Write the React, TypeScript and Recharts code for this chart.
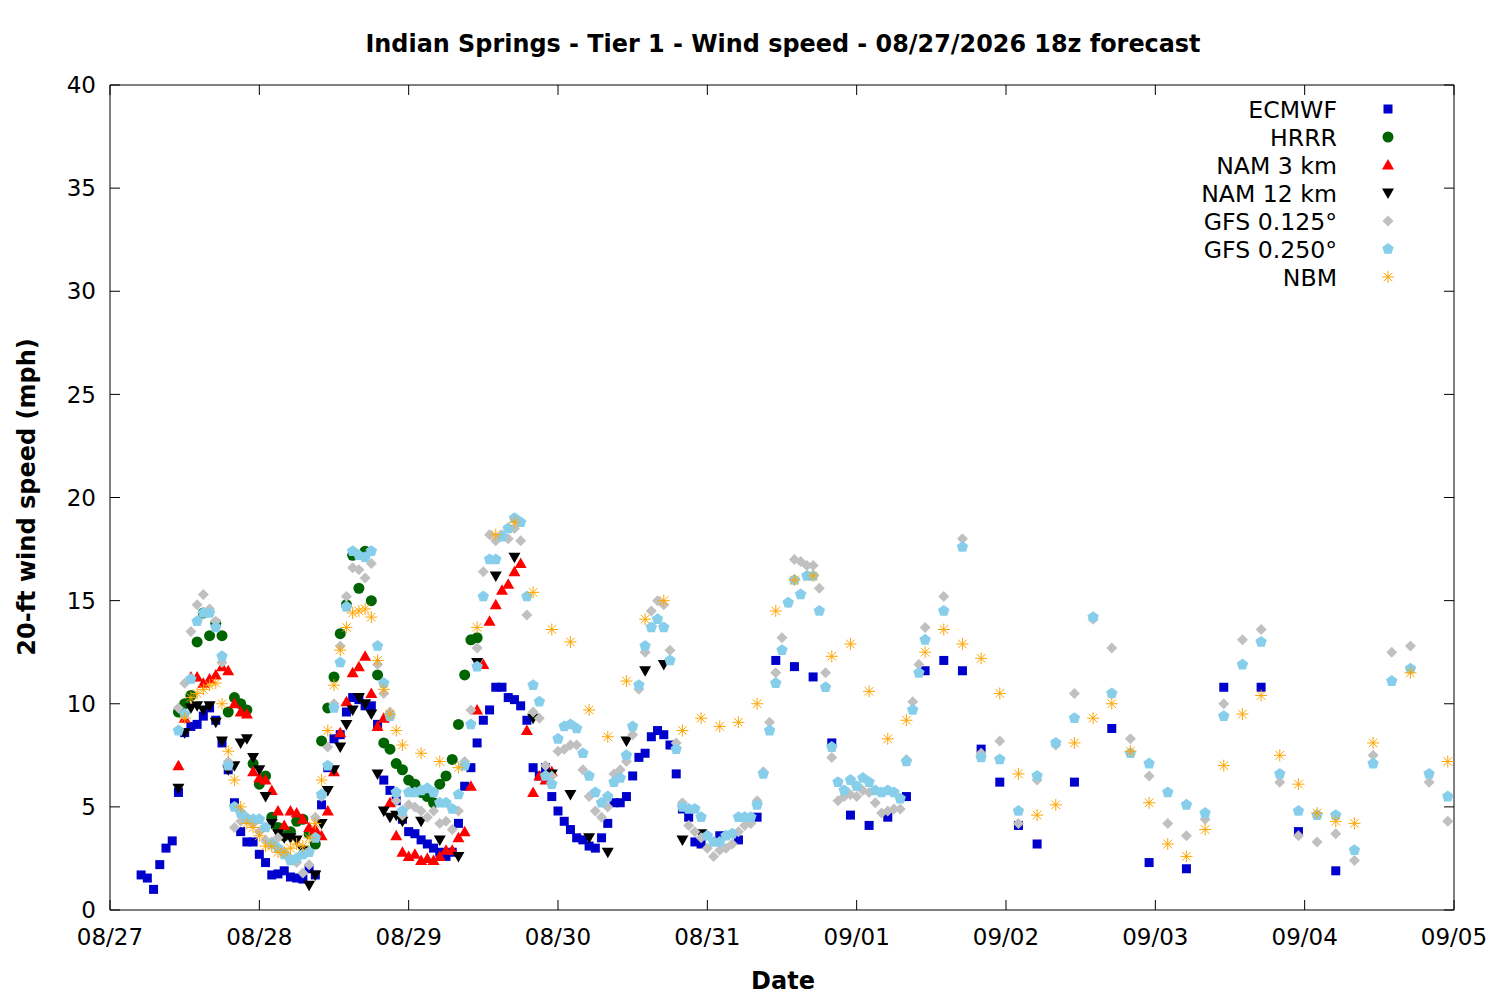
import React from 'react';
import { ScatterChart, Scatter, XAxis, YAxis, ReferenceLine } from 'recharts';

// hours since 08/27 00 -> wind speed (mph)
const ecmwf: [number, number][] = [
  [5, 1.7], [6, 1.55], [7, 1.0], [8, 2.2], [9, 3.0], [10, 3.35], [11, 5.7], [12, 8.6], [13, 8.9], [14, 9.0],
  [15, 9.4], [16, 9.8], [17, 9.2], [18, 8.1], [19, 6.8], [20, 5.2], [21, 3.8], [22, 3.3], [23, 3.3], [24, 2.7],
  [25, 2.3], [26, 1.7], [27, 1.75], [28, 1.9], [29, 1.6], [30, 1.55], [31, 1.5], [32, 2.0], [33, 1.7], [34, 5.1],
  [35, 6.9], [36, 8.3], [37, 8.5], [38, 9.6], [39, 10.3], [40, 10.2], [41, 9.9], [42, 9.9], [43, 9.0], [44, 6.3],
  [45, 5.8], [46, 5.3], [47, 4.4], [48, 3.8], [49, 3.7], [50, 3.4], [51, 3.2], [52, 3.0], [53, 2.8], [54, 2.6],
  [55, 2.8], [56, 4.2], [57, 6.0], [58, 6.9], [59, 8.1], [60, 9.2], [61, 9.7], [62, 10.8], [63, 10.8], [64, 10.3],
  [65, 10.2], [66, 9.9], [67, 9.2], [68, 6.9], [69, 6.5], [70, 6.9], [71, 5.5], [72, 4.8], [73, 4.3], [74, 3.9],
  [75, 3.5], [76, 3.4], [77, 3.1], [78, 3.0], [79, 3.5], [80, 4.2], [81, 5.2], [82, 5.2], [83, 5.5], [84, 6.5],
  [85, 7.4], [86, 7.6], [87, 8.4], [88, 8.7], [89, 8.5], [90, 8.0], [91, 6.6], [92, 4.9], [93, 4.5], [94, 3.3],
  [95, 3.2], [98, 3.6], [101, 3.4], [104, 4.5], [107, 12.1], [110, 11.8], [113, 11.3], [116, 8.1], [119, 4.6],
  [122, 4.1], [125, 4.5], [128, 5.5], [131, 11.6], [134, 12.1], [137, 11.6], [140, 7.8], [143, 6.2], [146, 4.1],
  [149, 3.2], [155, 6.2], [161, 8.8], [167, 2.3], [173, 2.0], [179, 10.8], [185, 10.8], [191, 3.8], [197, 1.9],
];

const hrrr: [number, number][] = [
  [11, 9.6], [12, 10.0], [13, 10.4], [14, 13.0], [15, 14.4], [16, 13.3], [17, 13.9], [18, 13.3], [19, 9.6],
  [20, 10.3], [21, 10.0], [22, 9.7], [23, 7.1], [24, 6.1], [25, 6.5], [26, 4.5], [27, 4.0], [28, 3.6], [29, 3.8],
  [30, 4.3], [31, 4.4], [32, 3.7], [33, 3.2], [34, 8.2], [35, 9.8], [36, 11.3], [37, 13.4], [38, 14.8], [39, 17.2],
  [40, 15.6], [41, 17.4], [42, 15.0], [43, 11.4], [44, 8.1], [45, 7.8], [46, 7.1], [47, 6.8], [48, 6.3], [49, 6.1],
  [50, 5.7], [51, 5.5], [52, 5.2], [53, 6.1], [54, 6.5], [55, 7.3], [56, 9.0], [57, 11.4], [58, 13.1], [59, 13.2],
];

const nam3: [number, number][] = [
  [11, 7.0], [12, 9.3], [13, 11.3], [14, 11.3], [15, 11.0], [16, 11.2], [17, 11.4], [18, 11.8], [19, 11.6],
  [20, 10.0], [21, 9.6], [22, 9.5], [23, 6.7], [24, 6.4], [25, 6.3], [26, 5.8], [27, 4.8], [28, 4.1], [29, 4.8],
  [30, 4.7], [31, 4.4], [32, 4.0], [33, 3.9], [34, 3.6], [35, 4.8], [36, 6.7], [37, 8.6], [38, 10.1], [39, 11.5],
  [40, 11.8], [41, 12.3], [42, 10.5], [43, 8.9], [44, 9.3], [45, 5.2], [46, 3.6], [47, 2.8], [48, 2.6], [49, 2.7],
  [50, 2.4], [51, 2.5], [52, 2.4], [53, 2.6], [54, 2.9], [55, 2.9], [56, 3.5], [57, 3.8], [58, 6.0], [59, 9.7],
  [60, 11.9], [61, 14.0], [62, 14.8], [63, 15.5], [64, 15.8], [65, 16.4], [66, 16.8], [67, 8.7], [68, 5.7],
  [69, 6.5], [70, 6.3], [71, 6.7],
];

const nam12: [number, number][] = [
  [11, 5.9], [12, 8.6], [13, 9.8], [14, 9.9], [15, 9.7], [16, 9.9], [17, 9.1], [18, 8.2], [19, 6.8], [20, 7.0],
  [21, 8.1], [22, 8.3], [23, 7.4], [24, 6.8], [25, 5.5], [26, 4.2], [27, 3.7], [28, 3.5], [29, 3.5], [30, 3.4],
  [31, 2.9], [32, 1.2], [33, 1.7], [34, 4.2], [35, 5.8], [36, 6.8], [37, 7.9], [38, 9.0], [39, 9.7], [40, 10.3],
  [41, 10.0], [42, 9.5], [43, 6.6], [44, 4.8], [45, 4.5], [46, 4.6], [47, 4.3], [50, 4.3], [53, 3.4], [56, 2.6],
  [59, 12.0], [62, 16.2], [65, 17.1], [68, 9.3], [71, 6.6], [74, 5.6], [77, 3.5], [80, 2.8], [83, 8.2], [86, 11.6],
  [89, 11.9], [92, 3.4], [95, 3.7],
];

const gfs125: [number, number][] = [
  [11, 9.8], [12, 11.0], [13, 13.5], [14, 14.8], [15, 15.3], [16, 14.6], [17, 14.0], [18, 12.0], [19, 7.2],
  [20, 4.0], [21, 4.3], [22, 4.5], [23, 4.2], [24, 3.8], [25, 3.4], [26, 3.3], [27, 3.5], [28, 2.8], [29, 2.5],
  [30, 2.3], [31, 1.8], [32, 2.2], [33, 4.5], [34, 5.5], [35, 7.9], [36, 10.0], [37, 12.8], [38, 15.2], [39, 16.6],
  [40, 16.5], [41, 16.1], [42, 16.8], [43, 11.9], [44, 10.5], [45, 9.6], [46, 5.3], [47, 4.6], [48, 5.1], [49, 5.0],
  [50, 4.8], [51, 4.5], [52, 4.8], [53, 4.2], [54, 4.3], [55, 3.9], [56, 4.8], [57, 7.2], [58, 9.7], [59, 12.7],
  [60, 16.4], [61, 18.2], [62, 17.9], [63, 18.2], [64, 18.0], [65, 18.5], [66, 17.9], [67, 14.3], [68, 9.6],
  [69, 9.3], [70, 7.0], [71, 6.5], [72, 7.7], [73, 7.8], [74, 8.0], [75, 8.0], [76, 6.8], [77, 5.5], [78, 4.8],
  [79, 4.5], [80, 5.0], [81, 6.6], [82, 6.8], [83, 7.2], [84, 8.5], [85, 10.7], [86, 12.5], [87, 14.5], [88, 15.0],
  [89, 14.8], [90, 12.6], [91, 8.1], [92, 5.2], [93, 4.1], [94, 3.8], [95, 3.5], [96, 3.0], [97, 2.6], [98, 2.9],
  [99, 3.0], [100, 3.2], [101, 3.8], [102, 4.1], [103, 4.2], [104, 5.3], [105, 6.7], [106, 9.1], [107, 11.5],
  [108, 13.2], [109, 14.9], [110, 17.0], [111, 16.9], [112, 16.7], [113, 16.7], [114, 15.6], [115, 11.5],
  [116, 7.4], [117, 5.3], [118, 5.5], [119, 5.6], [120, 5.5], [121, 5.8], [122, 5.7], [123, 5.2], [124, 4.7],
  [125, 4.8], [126, 4.9], [127, 4.9], [128, 7.3], [129, 10.1], [130, 11.9], [131, 13.7], [134, 15.2], [137, 18.0],
  [140, 7.6], [143, 8.2], [146, 4.2], [149, 6.3], [152, 8.0], [155, 10.5], [158, 14.1], [161, 12.7], [164, 8.3],
  [167, 6.5], [170, 4.2], [173, 3.6], [176, 4.4], [179, 10.0], [182, 13.1], [185, 13.6], [188, 6.2], [191, 3.6],
  [194, 3.3], [197, 3.7], [200, 2.4], [203, 7.5], [206, 12.5], [209, 12.8], [212, 6.2], [215, 4.3],
];

const gfs250: [number, number][] = [
  [11, 8.7], [12, 9.5], [13, 11.2], [14, 14.0], [15, 14.4], [16, 14.4], [17, 13.7], [18, 12.3], [19, 7.0],
  [20, 5.0], [21, 4.7], [22, 4.4], [23, 4.4], [24, 4.4], [25, 4.0], [26, 3.2], [27, 3.0], [28, 2.7], [29, 2.4],
  [30, 2.5], [31, 2.7], [32, 2.8], [33, 3.5], [34, 5.6], [35, 7.0], [36, 9.8], [37, 12.0], [38, 14.7], [39, 17.4],
  [40, 17.2], [41, 17.1], [42, 17.4], [43, 12.8], [44, 11.0], [45, 9.4], [46, 5.7], [47, 4.8], [48, 5.7], [49, 5.7],
  [50, 5.8], [51, 5.9], [52, 5.7], [53, 5.2], [54, 5.2], [55, 4.9], [56, 5.6], [57, 7.0], [58, 9.0], [59, 11.8],
  [60, 15.2], [61, 17.0], [62, 17.0], [63, 18.1], [64, 18.5], [65, 19.0], [66, 18.8], [67, 15.2], [68, 10.9],
  [69, 10.1], [70, 6.5], [71, 6.1], [72, 8.3], [73, 8.9], [74, 9.0], [75, 8.8], [76, 7.6], [77, 6.5], [78, 5.7],
  [79, 5.2], [80, 5.5], [81, 6.2], [82, 6.4], [83, 7.5], [84, 8.9], [85, 10.9], [86, 12.8], [87, 13.7], [88, 14.1],
  [89, 13.7], [90, 12.1], [91, 7.8], [92, 5.0], [93, 4.9], [94, 4.9], [95, 4.5], [96, 3.6], [97, 3.3], [98, 3.3],
  [99, 3.6], [100, 3.7], [101, 4.5], [102, 4.5], [103, 4.5], [104, 5.1], [105, 6.6], [106, 8.7], [107, 11.0],
  [108, 12.6], [109, 14.9], [110, 16.0], [111, 15.3], [112, 16.2], [113, 16.2], [114, 14.5], [115, 10.8],
  [116, 7.9], [117, 6.2], [118, 5.8], [119, 6.3], [120, 6.0], [121, 6.4], [122, 6.2], [123, 5.8], [124, 5.7],
  [125, 5.8], [126, 5.7], [127, 5.4], [128, 7.2], [129, 9.7], [130, 11.5], [131, 13.1], [134, 14.5], [137, 17.6],
  [140, 7.4], [143, 7.3], [146, 4.8], [149, 6.5], [152, 8.1], [155, 9.3], [158, 14.2], [161, 10.5], [164, 7.6],
  [167, 7.1], [170, 5.7], [173, 5.1], [176, 4.7], [179, 9.4], [182, 11.9], [185, 13.0], [188, 6.6], [191, 4.8],
  [194, 4.6], [197, 4.6], [200, 2.9], [203, 7.1], [206, 11.1], [209, 11.7], [212, 6.6], [215, 5.5],
];

const nbm: [number, number][] = [
  [12, 9.3], [13, 10.3], [14, 10.5], [15, 10.7], [16, 10.9], [17, 11.0], [18, 10.0], [19, 7.7], [20, 6.3],
  [21, 5.0], [22, 4.2], [23, 4.0], [24, 3.6], [25, 3.1], [26, 3.1], [27, 2.8], [28, 2.8], [29, 3.0], [30, 3.2],
  [31, 3.1], [32, 3.5], [33, 4.2], [34, 6.3], [35, 8.7], [36, 10.9], [37, 12.6], [38, 13.7], [39, 14.4], [40, 14.5],
  [41, 14.6], [42, 14.2], [43, 12.1], [44, 10.7], [45, 9.5], [46, 8.7], [47, 8.0], [50, 7.6], [53, 7.2], [56, 6.9],
  [59, 13.7], [62, 18.2], [65, 18.8], [68, 15.4], [71, 13.6], [74, 13.0], [77, 9.7], [80, 8.4], [83, 11.1],
  [86, 14.1], [89, 15.0], [92, 8.7], [95, 9.3], [98, 8.9], [101, 9.1], [104, 10.0], [107, 14.5], [110, 16.0],
  [113, 16.2], [116, 12.3], [119, 12.9], [122, 10.6], [125, 8.3], [128, 9.2], [131, 12.5], [134, 13.6], [137, 12.9],
  [140, 12.2], [143, 10.5], [146, 6.6], [149, 4.6], [152, 5.1], [155, 8.1], [158, 9.3], [161, 10.0], [164, 7.7],
  [167, 5.2], [170, 3.2], [173, 2.6], [176, 3.9], [179, 7.0], [182, 9.5], [185, 10.4], [188, 7.5], [191, 6.1],
  [194, 4.7], [197, 4.3], [200, 4.2], [203, 8.1], [209, 11.5], [215, 7.2],
];

const dayLabels = ['08/27', '08/28', '08/29', '08/30', '08/31', '09/01', '09/02', '09/03', '09/04', '09/05'];
const xTicks = dayLabels.map((_, i) => i * 24);
const yTicks = [0, 5, 10, 15, 20, 25, 30, 35, 40];
const seriesNames = ['ECMWF', 'HRRR', 'NAM 3 km', 'NAM 12 km', 'GFS 0.125°', 'GFS 0.250°', 'NBM'];

const FONT = '"DejaVu Sans", sans-serif';
const X_MAX = 216;
const Y_MAX = 40;

const toPoints = (rows: [number, number][]) => rows.map(([x, y]) => ({ x, y }));

// marker drawing, gnuplot style
function marker(kind: string, cx: number, cy: number) {
  switch (kind) {
    case 'square':
      return <rect x={cx - 4.5} y={cy - 4.5} width={9} height={9} fill="#0000cc" />;
    case 'circle':
      return <circle cx={cx} cy={cy} r={5.5} fill="#006400" />;
    case 'up':
      return <polygon points={`${cx},${cy - 6} ${cx + 6},${cy + 4.5} ${cx - 6},${cy + 4.5}`} fill="#ff0000" />;
    case 'down':
      return <polygon points={`${cx - 6},${cy - 4.5} ${cx + 6},${cy - 4.5} ${cx},${cy + 6}`} fill="#000000" />;
    case 'diamond':
      return <polygon points={`${cx},${cy - 5.5} ${cx + 5.5},${cy} ${cx},${cy + 5.5} ${cx - 5.5},${cy}`} fill="#c0c0c0" />;
    case 'pentagon': {
      const pts = [0, 1, 2, 3, 4]
        .map((k) => {
          const a = ((-90 + 72 * k) * Math.PI) / 180;
          return `${cx + 6 * Math.cos(a)},${cy + 6 * Math.sin(a)}`;
        })
        .join(' ');
      return <polygon points={pts} fill="#87ceeb" />;
    }
    default: {
      const d = 4.3;
      return (
        <g stroke="#ffa500" strokeWidth={1}>
          <line x1={cx - 6} y1={cy} x2={cx + 6} y2={cy} />
          <line x1={cx} y1={cy - 6} x2={cx} y2={cy + 6} />
          <line x1={cx - d} y1={cy - d} x2={cx + d} y2={cy + d} />
          <line x1={cx - d} y1={cy + d} x2={cx + d} y2={cy - d} />
        </g>
      );
    }
  }
}

const kinds = ['square', 'circle', 'up', 'down', 'diamond', 'pentagon', 'star'];
const allSeries = [ecmwf, hrrr, nam3, nam12, gfs125, gfs250, nbm];

const shapeFor = (kind: string) => (props: any) => marker(kind, props.cx, props.cy);

export default function App() {
  const xTickLen = 10 / 20.625; // ~10px in mph
  const yTickLen = 10 / 6.222; // ~10px in hours

  return (
    <div style={{ position: 'absolute', left: 0, top: 0, width: 1500, height: 1000, background: '#fff' }}>
      <ScatterChart width={1500} height={1000} margin={{ top: 85, right: 46, bottom: 30, left: 0 }}>
        <XAxis
          type="number"
          dataKey="x"
          domain={[0, X_MAX]}
          ticks={xTicks}
          tickFormatter={(v: number) => dayLabels[Math.round(v / 24)]}
          height={60}
          axisLine={false}
          tickLine={false}
          tickMargin={13}
          tick={{ fill: '#000', fontSize: 23, fontFamily: FONT }}
          interval={0}
        />
        <YAxis
          type="number"
          dataKey="y"
          domain={[0, Y_MAX]}
          ticks={yTicks}
          width={110}
          axisLine={false}
          tickLine={false}
          tickMargin={8}
          tick={{ fill: '#000', fontSize: 23, fontFamily: FONT }}
          interval={0}
        />
        {allSeries.map((rows, i) => (
          <Scatter
            key={seriesNames[i]}
            name={seriesNames[i]}
            data={toPoints(rows)}
            shape={shapeFor(kinds[i])}
            isAnimationActive={false}
          />
        ))}
        {/* plot border */}
        <ReferenceLine x={0} stroke="#000" ifOverflow="visible" />
        <ReferenceLine x={X_MAX} stroke="#000" ifOverflow="visible" />
        <ReferenceLine y={0} stroke="#000" ifOverflow="visible" />
        <ReferenceLine y={Y_MAX} stroke="#000" ifOverflow="visible" />
        {/* inward ticks, mirrored */}
        {xTicks.map((t) => (
          <ReferenceLine key={`xb${t}`} segment={[{ x: t, y: 0 }, { x: t, y: xTickLen }]} stroke="#000" ifOverflow="visible" />
        ))}
        {xTicks.map((t) => (
          <ReferenceLine key={`xt${t}`} segment={[{ x: t, y: Y_MAX - xTickLen }, { x: t, y: Y_MAX }]} stroke="#000" ifOverflow="visible" />
        ))}
        {yTicks.map((t) => (
          <ReferenceLine key={`yl${t}`} segment={[{ x: 0, y: t }, { x: yTickLen, y: t }]} stroke="#000" ifOverflow="visible" />
        ))}
        {yTicks.map((t) => (
          <ReferenceLine key={`yr${t}`} segment={[{ x: X_MAX - yTickLen, y: t }, { x: X_MAX, y: t }]} stroke="#000" ifOverflow="visible" />
        ))}
      </ScatterChart>

      <svg
        width={1500}
        height={1000}
        style={{ position: 'absolute', left: 0, top: 0, pointerEvents: 'none' }}
        fontFamily={FONT}
      >
        <text x={783} y={52} textAnchor="middle" fontSize={23.9} fontWeight="bold">
          Indian Springs - Tier 1 - Wind speed - 08/27/2026 18z forecast
        </text>
        <text x={783} y={989} textAnchor="middle" fontSize={24} fontWeight="bold">
          Date
        </text>
        <text transform="translate(35,497) rotate(-90)" textAnchor="middle" fontSize={24} fontWeight="bold">
          20-ft wind speed (mph)
        </text>
        {seriesNames.map((name, i) => (
          <g key={name}>
            <text x={1337} y={118 + i * 28} textAnchor="end" fontSize={23.6}>
              {name}
            </text>
            {marker(kinds[i], 1388, 109 + i * 28)}
          </g>
        ))}
      </svg>
    </div>
  );
}
